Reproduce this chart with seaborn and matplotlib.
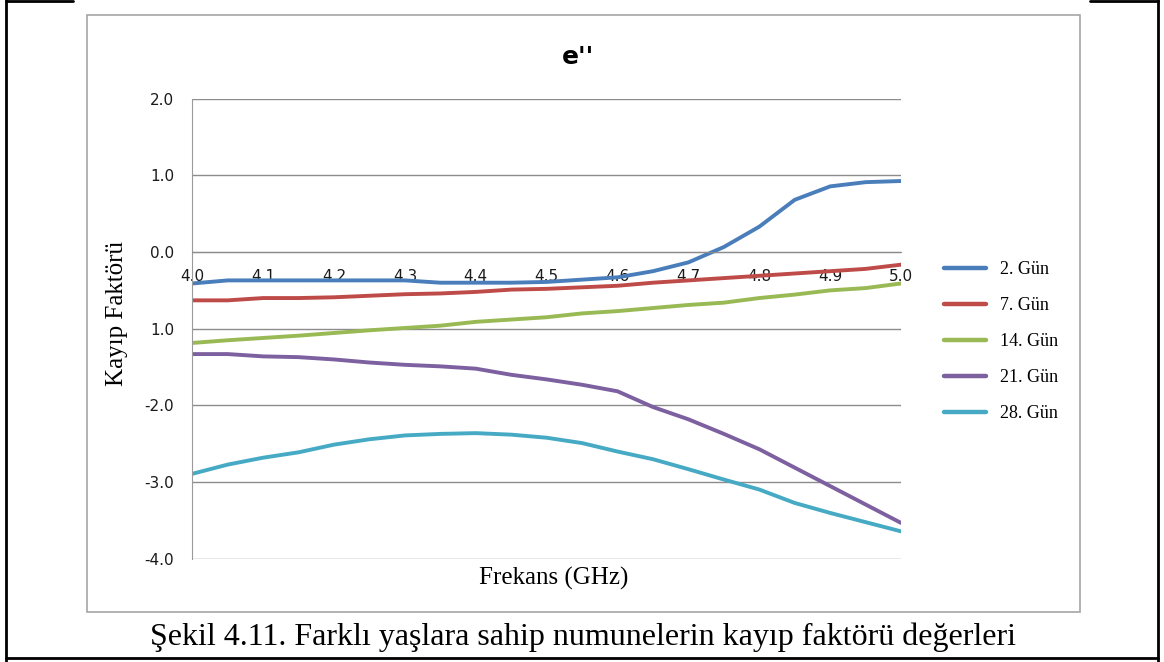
import numpy as np
import pandas as pd
import seaborn as sns
import matplotlib.pyplot as plt
from matplotlib.lines import Line2D
from matplotlib.patches import Rectangle

freq = [4.0, 4.05, 4.1, 4.15, 4.2, 4.25, 4.3, 4.35, 4.4, 4.45, 4.5,
        4.55, 4.6, 4.65, 4.7, 4.75, 4.8, 4.85, 4.9, 4.95, 5.0]

gun_2 = [-0.41, -0.37, -0.37, -0.37, -0.37, -0.37, -0.37, -0.40, -0.40, -0.40, -0.39,
         -0.36, -0.33, -0.25, -0.135, 0.065, 0.33, 0.68, 0.855, 0.91, 0.925]
gun_7 = [-0.63, -0.63, -0.60, -0.60, -0.59, -0.57, -0.55, -0.54, -0.52, -0.49, -0.48,
         -0.46, -0.44, -0.40, -0.37, -0.34, -0.31, -0.28, -0.25, -0.22, -0.165]
gun_14 = [-1.185, -1.15, -1.12, -1.09, -1.055, -1.02, -0.99, -0.96, -0.91, -0.88, -0.85,
          -0.80, -0.77, -0.73, -0.69, -0.66, -0.60, -0.555, -0.50, -0.47, -0.41]
gun_21 = [-1.33, -1.33, -1.36, -1.37, -1.40, -1.44, -1.47, -1.49, -1.52, -1.60, -1.66,
          -1.73, -1.815, -2.02, -2.18, -2.37, -2.57, -2.81, -3.05, -3.29, -3.53]
gun_28 = [-2.89, -2.77, -2.68, -2.61, -2.51, -2.44, -2.39, -2.37, -2.36, -2.38, -2.42,
          -2.49, -2.60, -2.70, -2.83, -2.965, -3.095, -3.27, -3.40, -3.52, -3.64]

series_names = ["2. Gün", "7. Gün", "14. Gün", "21. Gün", "28. Gün"]
colors = ["#4A7EBB", "#BE4B48", "#98B954", "#7D60A0", "#46AAC5"]

x_ticks = [4.0, 4.1, 4.2, 4.3, 4.4, 4.5, 4.6, 4.7, 4.8, 4.9, 5.0]
y_ticks = [-4.0, -3.0, -2.0, -1.0, 0.0, 1.0, 2.0]
y_tick_labels = ["-4.0", "-3.0", "-2.0", "1.0", "0.0", "1.0", "2.0"]

rows = []
for name, vals in zip(series_names, [gun_2, gun_7, gun_14, gun_21, gun_28]):
    for f, v in zip(freq, vals):
        rows.append({"Frekans": f, "Değer": v, "Seri": name})
df = pd.DataFrame(rows)

sns.set_style("white")
plt.rcParams["font.family"] = ["DejaVu Sans"]

fig = plt.figure(figsize=(11.64, 6.62), dpi=100)
ax = fig.add_axes([0.1652, 0.1556, 0.6089, 0.6956])

sns.lineplot(data=df, x="Frekans", y="Değer", hue="Seri", palette=colors,
             linewidth=2.8, ax=ax, legend=True, zorder=1)

ax.set_xlim(4.0, 5.0)
ax.set_ylim(-4.0, 2.0)
ax.set_yticks(y_ticks)
ax.set_yticklabels(y_tick_labels)
ax.set_xticks(x_ticks)
ax.set_xticklabels([f"{t:.1f}" for t in x_ticks])
ax.grid(axis="y", color="#8C8C8C", linewidth=1.0)
ax.grid(axis="x", visible=False)
ax.set_axisbelow(True)

for s in ["top", "right"]:
    ax.spines[s].set_visible(False)
ax.spines["left"].set_color("#9A9A9A")
ax.spines["bottom"].set_position(("data", 0))
ax.spines["bottom"].set_color("#8C8C8C")
ax.tick_params(axis="both", length=0, labelsize=11, colors="#1A1A1A")
ax.tick_params(axis="y", pad=13)
ax.tick_params(axis="x", pad=12)
for lbl in ax.get_xticklabels():
    lbl.set_zorder(5)

ax.set_xlabel("")
ax.set_ylabel("")
fig.text(578 / 1164, 1 - 57 / 662, "e''", fontsize=18, fontweight="bold",
         ha="center", va="center", color="black")

serif = ["Liberation Serif", "DejaVu Serif"]
fig.text(554 / 1164, 1 - 578 / 662, "Frekans (GHz)", family=serif, fontsize=18,
         ha="center", va="center", color="black")
fig.text(117 / 1164, 1 - 313 / 662, "Kayıp Faktörü", family=serif, fontsize=18,
         ha="center", va="center", rotation=90, color="black")
fig.text(583 / 1164, 1 - 637 / 662,
         "Şekil 4.11. Farklı yaşlara sahip numunelerin kayıp faktörü değerleri",
         family=serif, fontsize=23, ha="center", va="center", color="black")

handles, labels = ax.get_legend_handles_labels()
leg = ax.legend(handles, labels, loc="upper left",
                bbox_to_anchor=(944 / 1164, 1 - 261 / 662),
                bbox_transform=fig.transFigure, frameon=False,
                prop={"family": serif, "size": 13}, handlelength=2.3,
                handletextpad=0.8, labelspacing=1.05, borderpad=0, borderaxespad=0)
for t in leg.get_texts():
    t.set_color("black")
for h in leg.get_lines():
    h.set_linewidth(3.2)

# gray chart-area box and black page frame
fig.add_artist(Rectangle((87 / 1164, 1 - 612 / 662), (1080 - 87) / 1164,
                         (612 - 15) / 662, transform=fig.transFigure,
                         fill=False, edgecolor="#A6A6A6", linewidth=1.2))
frame = dict(transform=fig.transFigure, color="black", linewidth=2)
fig.add_artist(Line2D([6 / 1164, 6 / 1164], [0, 1], **frame))
fig.add_artist(Line2D([1158 / 1164, 1158 / 1164], [0, 1], **frame))
fig.add_artist(Line2D([6 / 1164, 1158 / 1164], [1 - 658 / 662] * 2, **frame))
fig.add_artist(Line2D([6 / 1164, 73 / 1164], [1 - 1 / 662] * 2, **frame))
fig.add_artist(Line2D([1090 / 1164, 1158 / 1164], [1 - 1 / 662] * 2, **frame))

fig.savefig("out.png", dpi=100)
